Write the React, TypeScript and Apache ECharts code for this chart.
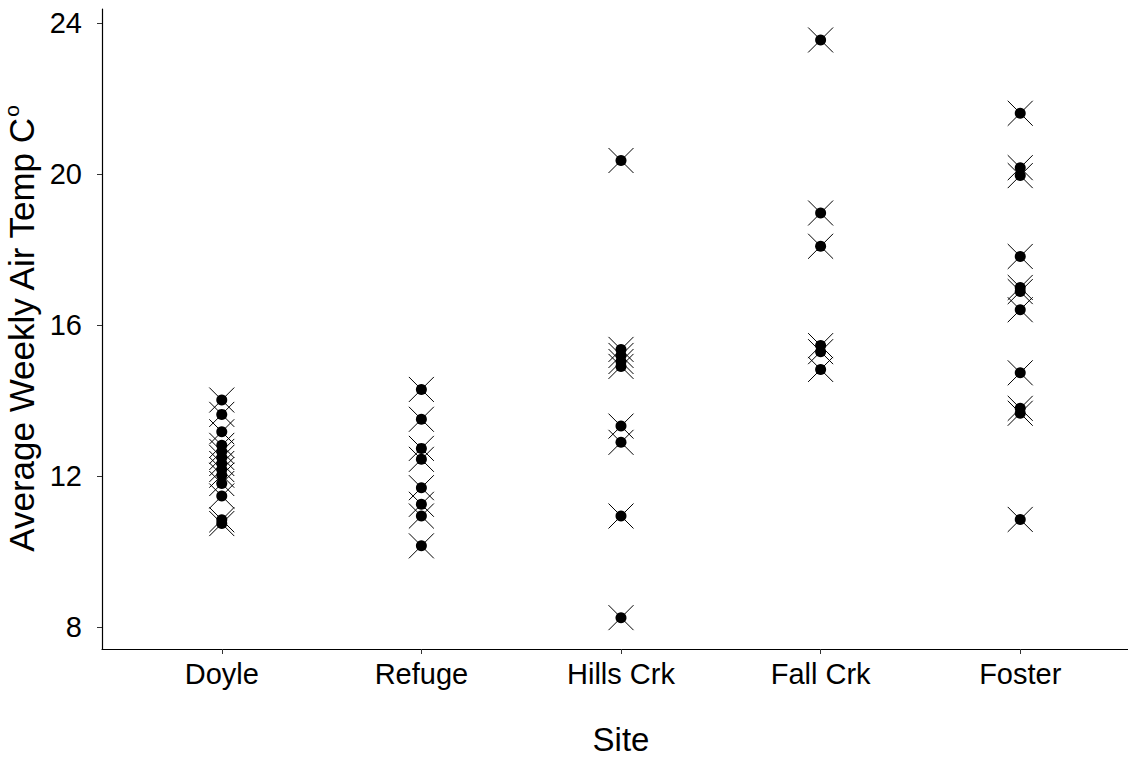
import React, { useEffect, useRef } from "react";
import * as echarts from "echarts";

const sites = ["Doyle", "Refuge", "Hills Crk", "Fall Crk", "Foster"];
const doyle = [14.02, 13.64, 13.18, 12.82, 12.66, 12.5, 12.34, 12.18, 12.03, 11.81, 11.48, 10.85, 10.75];
const refuge = [14.3, 13.51, 12.74, 12.45, 11.7, 11.26, 10.95, 10.16];
const hillsCrk = [20.36, 15.36, 15.2, 15.04, 14.91, 13.33, 12.9, 10.95, 8.26];
const fallCrk = [23.55, 18.97, 18.09, 15.46, 15.3, 14.83];
const foster = [21.61, 20.17, 19.96, 17.82, 17.0, 16.89, 16.41, 14.74, 13.8, 13.67, 10.86];
const yTicks = [8, 12, 16, 20, 24];
const siteIdx = [0, 1, 2, 3, 4];

export default function App() {
  const ref = useRef<HTMLDivElement>(null);
  useEffect(() => {
    if (!ref.current) return;
    const chart = echarts.init(ref.current, undefined, { renderer: "svg" });
    const groups = [doyle, refuge, hillsCrk, fallCrk, foster];
    const pts: number[][] = [];
    groups.forEach((g, i) => g.forEach((v) => pts.push([i, v])));
    const font = "Liberation Sans, Arial, sans-serif";
    chart.setOption({
      animation: false,
      backgroundColor: "#fff",
      grid: { left: 102, top: 9, width: 1038, height: 640, containLabel: false, outerBoundsMode: "none" },
      xAxis: {
        type: "value",
        min: -0.6,
        max: 4.6,
        name: "Site",
        nameLocation: "middle",
        nameGap: 72,
        nameTextStyle: { fontSize: 33, color: "#000", fontFamily: font, lineHeight: 36 },
        axisLine: { show: true, onZero: false, lineStyle: { color: "#000", width: 1.2 } },
        axisTick: { show: true, length: 5, customValues: siteIdx, lineStyle: { color: "#333" } },
        axisLabel: {
          customValues: siteIdx,
          fontSize: 29,
          color: "#000",
          fontFamily: font,
          margin: 10,
          formatter: (v: number) => sites[Math.round(v)] ?? "",
        },
        splitLine: { show: false },
      },
      yAxis: {
        type: "value",
        min: 7.43,
        max: 24.37,
        name: "{a|Average Weekly Air Temp C}{s|o}",
        nameLocation: "middle",
        nameGap: 52,
        nameRotate: 90,
        nameTextStyle: {
          fontFamily: font,
          color: "#000",
          rich: {
            a: { fontSize: 35, fontFamily: font, color: "#000", lineHeight: 38, verticalAlign: "bottom" },
            s: { fontSize: 21, fontFamily: font, color: "#000", lineHeight: 38, verticalAlign: "top" },
          },
        },
        axisLine: { show: true, onZero: false, lineStyle: { color: "#000", width: 1.2 } },
        axisTick: { show: true, length: 5, customValues: yTicks, lineStyle: { color: "#333" } },
        axisLabel: { customValues: yTicks, fontSize: 29, color: "#000", fontFamily: font, margin: 20 },
        splitLine: { show: false },
      },
      series: [
        {
          type: "scatter",
          data: pts,
          symbol: "path://M0 0L10 10M10 0L0 10",
          symbolSize: 25,
          itemStyle: { color: "none", borderColor: "#000", borderWidth: 1, opacity: 1 },
          silent: true,
        },
        {
          type: "scatter",
          data: pts,
          symbol: "circle",
          symbolSize: 11,
          itemStyle: { color: "#000", opacity: 1 },
          silent: true,
        },
      ],
    });
    return () => chart.dispose();
  }, []);
  return <div ref={ref} style={{ position: "fixed", left: 0, top: 0, width: 1128, height: 757 }} />;
}
